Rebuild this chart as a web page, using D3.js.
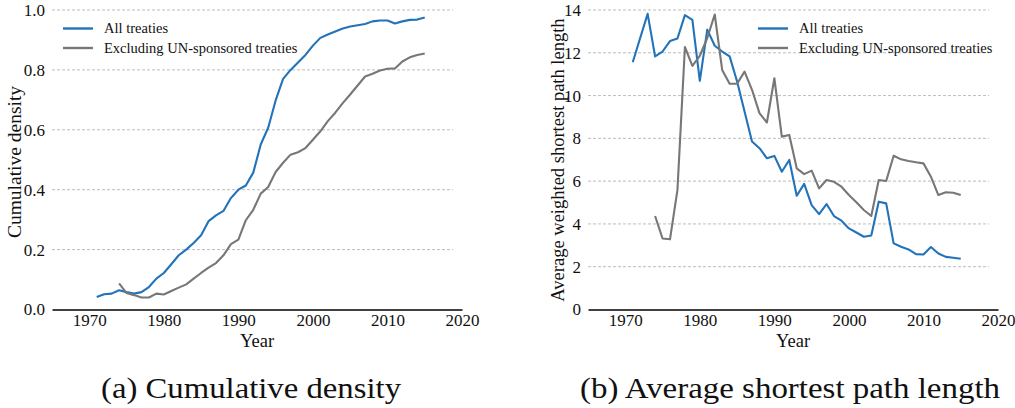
<!DOCTYPE html>
<html><head><meta charset="utf-8">
<script src="https://cdn.jsdelivr.net/npm/d3@7"></script>
<style>body{margin:0;background:#fff}svg{display:block}</style>
</head><body>
<svg id="c" width="1015" height="408"></svg>
<script>
const years = d3.range(1971, 2016);
const yearsEx = d3.range(1974, 2016);
const densityAll = [0.042,0.051,0.053,0.064,0.058,0.053,0.058,0.075,0.103,0.122,0.151,0.181,0.200,0.222,0.248,0.295,0.314,0.329,0.372,0.400,0.414,0.457,0.551,0.607,0.698,0.770,0.800,0.825,0.850,0.881,0.907,0.918,0.928,0.938,0.945,0.949,0.953,0.962,0.965,0.965,0.955,0.962,0.967,0.968,0.975];
const densityEx = [0.087,0.055,0.048,0.040,0.040,0.053,0.050,0.062,0.073,0.084,0.103,0.122,0.140,0.155,0.181,0.218,0.233,0.298,0.333,0.387,0.409,0.459,0.490,0.517,0.525,0.539,0.567,0.595,0.629,0.657,0.689,0.718,0.748,0.778,0.787,0.798,0.804,0.805,0.828,0.842,0.850,0.855];
const pathAll = [11.56,12.69,13.82,11.83,12.06,12.55,12.67,13.76,13.54,10.69,13.08,12.33,12.06,11.83,10.66,9.25,7.85,7.54,7.07,7.18,6.44,6.99,5.32,5.87,4.88,4.46,4.93,4.37,4.15,3.79,3.60,3.40,3.46,5.04,4.96,3.09,2.93,2.81,2.59,2.57,2.92,2.62,2.46,2.42,2.37];
const pathEx = [4.37,3.32,3.28,5.59,12.27,11.39,11.86,12.69,13.79,11.20,10.55,10.55,11.12,10.27,9.18,8.74,10.81,8.08,8.16,6.60,6.33,6.49,5.66,6.05,5.97,5.74,5.35,5.01,4.65,4.37,6.05,6.01,7.19,7.02,6.94,6.88,6.83,6.21,5.35,5.48,5.46,5.35];
const xTicks = [1970,1980,1990,2000,2010,2020];
const densityTicks = [0.0,0.2,0.4,0.6,0.8,1.0];
const pathTicks = [0,2,4,6,8,10,12,14];
const seriesNames = ["All treaties","Excluding UN-sponsored treaties"];
const colors = ["#2273b9","#777777"];
const captions = ["(a) Cumulative density","(b) Average shortest path length"];

const svg = d3.select("#c");
const font = "'Liberation Serif', 'Times New Roman', serif";
const ink = "#111";

function panel(o){
  const g = svg.append("g");
  const x = d3.scaleLinear().domain([1965,2020]).range([o.x0, o.x0+410]);
  const y = d3.scaleLinear().domain(o.ydom).range([309.5, 10]);
  g.selectAll("line.grid").data(o.yticks.filter(t=>t!==0)).join("line")
    .attr("x1", o.x0).attr("x2", o.x0+401)
    .attr("y1", d=>y(d)).attr("y2", d=>y(d))
    .attr("stroke","#bdbdbd").attr("stroke-width",1).attr("stroke-dasharray","3,2");
  g.selectAll("text.yt").data(o.yticks).join("text")
    .attr("x", o.x0-7).attr("y", d=>y(d)).attr("dy","0.35em")
    .attr("text-anchor","end").attr("font-family",font).attr("font-size",17)
    .attr("fill",ink).text(o.yfmt);
  const xa = g.append("g").attr("transform","translate(0,309.5)")
    .call(d3.axisBottom(x).tickValues(xTicks).tickFormat(d3.format("d")).tickSize(0).tickPadding(4));
  xa.select(".domain").attr("stroke","#000").attr("stroke-width",1.4);
  xa.selectAll("text").attr("font-family",font).attr("font-size",17).attr("fill",ink);
  const line = d3.line().x(d=>x(d[0])).y(d=>y(d[1]));
  o.series.forEach((s,i)=>{
    g.append("path").datum(s.xs.map((yr,j)=>[yr,s.vs[j]]))
      .attr("d", line).attr("fill","none").attr("stroke",colors[i])
      .attr("stroke-width",2.1).attr("stroke-linejoin","round");
  });
  seriesNames.forEach((n,i)=>{
    const ly = 28.5 + i*19.5;
    g.append("line").attr("x1",o.lx).attr("x2",o.lx+30).attr("y1",ly).attr("y2",ly)
      .attr("stroke",colors[i]).attr("stroke-width",2.4);
    g.append("text").attr("x",o.lx+41).attr("y",ly).attr("dy","0.33em")
      .attr("font-family",font).attr("font-size",14.5).attr("fill",ink).text(n);
  });
  g.append("text").attr("x", o.x0+205).attr("y", 346.5).attr("text-anchor","middle")
    .attr("font-family",font).attr("font-size",18.5).attr("fill",ink).text("Year");
  g.append("text").attr("transform",`translate(${o.ytx},${o.yty}) rotate(-90)`)
    .attr("text-anchor","middle").attr("font-family",font).attr("font-size",o.ylfs)
    .attr("fill",ink).text(o.ylabel);
  g.append("text").attr("x", o.cx).attr("y", 398).attr("text-anchor","middle")
    .attr("font-family",font).attr("font-size",30).attr("fill",ink)
    .attr("textLength",o.cw).attr("lengthAdjust","spacingAndGlyphs").text(o.caption);
}

panel({x0:52, ydom:[0,1], yticks:densityTicks, yfmt:d3.format(".1f"),
  series:[{xs:years,vs:densityAll},{xs:yearsEx,vs:densityEx}],
  lx:63, ylabel:"Cumulative density", ylfs:19.5, ytx:21, yty:162, caption:captions[0], cx:251, cw:300});
panel({x0:588, ydom:[0,14], yticks:pathTicks, yfmt:d3.format("d"),
  series:[{xs:years,vs:pathAll},{xs:yearsEx,vs:pathEx}],
  lx:758, ylabel:"Average weighted shortest path length", ylfs:18.5, ytx:564, yty:160, caption:captions[1], cx:790, cw:420});
</script>
</body></html>
